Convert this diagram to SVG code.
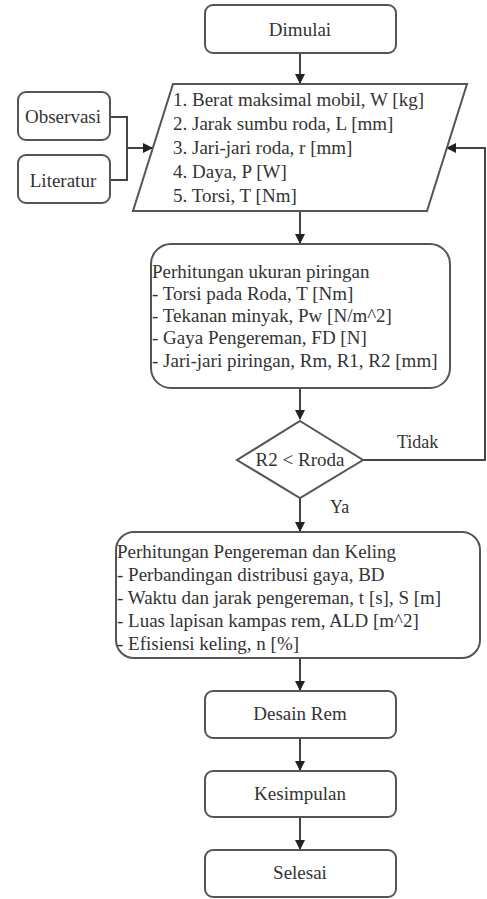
<svg xmlns="http://www.w3.org/2000/svg" width="487" height="899" viewBox="0 0 487 899">
<style>
.s{fill:#fff;stroke:#555;stroke-width:2}
.t{font-family:"Liberation Serif",Tinos,"Times New Roman","DejaVu Serif",serif;font-size:19px;fill:#333}
.c{text-anchor:middle}
.l{fill:none;stroke:#444;stroke-width:2}
</style>
<defs>
<marker id="a" markerWidth="10" markerHeight="10" refX="9" refY="5" orient="auto" markerUnits="userSpaceOnUse">
<path d="M0,0 L10,5 L0,10 z" fill="#222"/>
</marker>
</defs>
<rect width="487" height="899" fill="#fff"/>
<g id="connectors">
<path class="l" d="M300,53 V83" marker-end="url(#a)"/>
<path class="l" d="M110,117 H127 V180 H110"/>
<path class="l" d="M127,148 H152" marker-end="url(#a)"/>
<path class="l" d="M363,460 H485 V148 H447" marker-end="url(#a)"/>
<path class="l" d="M300,211 V243" marker-end="url(#a)"/>
<path class="l" d="M300,388 V419" marker-end="url(#a)"/>
<path class="l" d="M300,498 V531" marker-end="url(#a)"/>
<path class="l" d="M300,658 V690" marker-end="url(#a)"/>
<path class="l" d="M300,738 V770" marker-end="url(#a)"/>
<path class="l" d="M300,817 V849" marker-end="url(#a)"/>
<text class="t" x="397" y="448" font-family="Liberation Serif, serif" style="font-size:18px">Tidak</text>
<text class="t" x="330" y="513" font-family="Liberation Serif, serif" style="font-size:18px">Ya</text>
</g>
<g id="dimulai">
<rect class="s" x="205" y="5" width="191" height="48" rx="8"/>
<text class="t c" x="300" y="36">Dimulai</text>
</g>
<g id="observasi">
<rect class="s" x="18" y="92" width="92" height="48" rx="8"/>
<text class="t c" x="63" y="123">Observasi</text>
</g>
<g id="literatur">
<rect class="s" x="18" y="155" width="92" height="48" rx="8"/>
<text class="t c" x="63" y="187">Literatur</text>
</g>
<g id="input">
<path class="s" d="M173,84 H467 L427,211 H133 Z"/>
<text class="t" x="173" y="106">1. Berat maksimal mobil, W [kg]</text>
<text class="t" x="173" y="130">2. Jarak sumbu roda, L [mm]</text>
<text class="t" x="173" y="154">3. Jari-jari roda, r [mm]</text>
<text class="t" x="173" y="178">4. Daya, P [W]</text>
<text class="t" x="173" y="202">5. Torsi, T [Nm]</text>
</g>
<g id="ukuran">
<rect class="s" x="151" y="244" width="299" height="144" rx="20"/>
<text class="t" x="152" y="278">Perhitungan ukuran piringan</text>
<text class="t" x="152" y="300">- Torsi pada Roda, T [Nm]</text>
<text class="t" x="152" y="322">- Tekanan minyak, Pw [N/m^2]</text>
<text class="t" x="152" y="344">- Gaya Pengereman, FD [N]</text>
<text class="t" x="152" y="367">- Jari-jari piringan, Rm, R1, R2 [mm]</text>
</g>
<g id="keputusan">
<path class="s" d="M300,421 L363,460 L300,498 L237,460 Z"/>
<text class="t c" x="300" y="466">R2 &lt; Rroda</text>
</g>
<g id="pengereman">
<rect class="s" x="116" y="532" width="364" height="126" rx="18"/>
<text class="t" x="117" y="558">Perhitungan Pengereman dan Keling</text>
<text class="t" x="117" y="581">- Perbandingan distribusi gaya, BD</text>
<text class="t" x="117" y="604">- Waktu dan jarak pengereman, t [s], S [m]</text>
<text class="t" x="117" y="627">- Luas lapisan kampas rem, ALD [m^2]</text>
<text class="t" x="117" y="650">- Efisiensi keling, n [%]</text>
</g>
<g id="desain">
<rect class="s" x="205" y="691" width="191" height="47" rx="8"/>
<text class="t c" x="300" y="720">Desain Rem</text>
</g>
<g id="kesimpulan">
<rect class="s" x="205" y="771" width="191" height="46" rx="8"/>
<text class="t c" x="300" y="800">Kesimpulan</text>
</g>
<g id="selesai">
<rect class="s" x="205" y="850" width="191" height="47" rx="8"/>
<text class="t c" x="300" y="879">Selesai</text>
</g>
</svg>
